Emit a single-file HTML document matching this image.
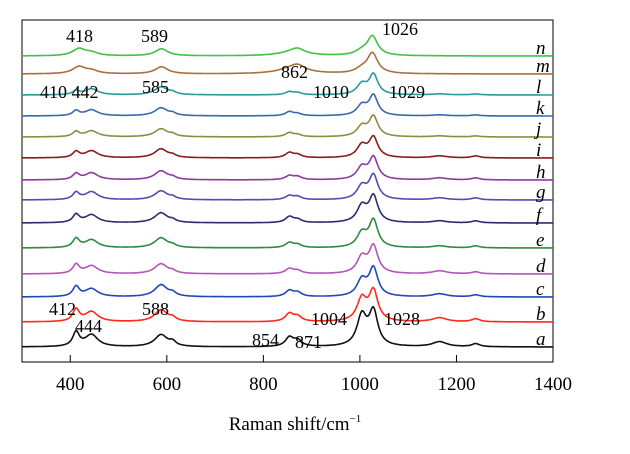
<!DOCTYPE html>
<html><head><meta charset="utf-8"><style>
body{margin:0;background:#fff;}
svg text{font-family:"Liberation Serif",serif;}
</style></head><body>
<svg id="chart" width="630" height="449" xmlns="http://www.w3.org/2000/svg">
<rect x="22" y="20" width="531" height="342" fill="none" stroke="#000" stroke-width="1"/>
<g id="ticks"></g><g id="series"></g>
<g font-size="18" fill="#000">
<text x="66" y="42">418</text>
<text x="141" y="42">589</text>
<text x="382" y="35">1026</text>
<text x="281" y="78">862</text>
<text x="40" y="98">410 442</text>
<text x="142" y="93">585</text>
<text x="313" y="98">1010</text>
<text x="389" y="98">1029</text>
<text x="49" y="315">412</text>
<text x="75" y="332">444</text>
<text x="142" y="315">588</text>
<text x="311" y="325">1004</text>
<text x="384" y="325">1028</text>
<text x="252" y="346">854</text>
<text x="295" y="348">871</text>
</g>
<text x="295" y="430" font-size="19" text-anchor="middle">Raman shift/cm<tspan font-size="11" dy="-8">−1</tspan></text>
</svg>
<script>
const xTicks=[400,600,800,1000,1200,1400];
const seriesNames=['a','b','c','d','e','f','g','h','i','j','k','l','m','n'];
const seriesColors=['#111','#ff2a1a','#2048b8','#b454b8','#2e8a3c','#2c2c6c','#5a48b0','#8c3a9c','#8a1c1c','#8e8c40','#3a68b0','#2a9a9a','#a8703c','#44c044'];
const baselines=[0,-25,-50,-73,-99,-124,-147,-167,-189,-210,-231,-252,-273,-291];
const peakCenters=[412,444,588,612,854,871,1004,1028,1165,1240];
const peakWidths=[8,16,16,8,10,10,12,11,18,10];
const hA=[14,12,12,4,9,6,30,34,5,3];
const hB=[12,10,12,3,8,5,22,30,4,3];
const hC=[10,8,12,3,6,4,16,28,3,2];
const hD=[9,8,10,2,5,3,16,27,3,2];
const hE=[9,8,10,2,5,3,14,27,2,2];
const hF=[8,8,10,2,6,3,16,26,2,2];
const hG=[7,8,9,2,4,3,13,24,2,2];
const hH=[6,7,9,2,4,3,12,22,2,2];
const hI=[6,7,9,2,5,3,12,20,2,2];
const hJ=[5,6,8,2,4,2,10,20,1,1];
const hK=[5,6,8,2,4,2,10,20,1,1];
const hL=[4,6,8,2,3,2,10,20,1,1];
const hM=[7,3,7,0,6,4,4,20,0,0];
const hN=[7,3,7,0,4,4,4,19,0,0];
const heights=[hA,hB,hC,hD,hE,hF,hG,hH,hI,hJ,hK,hL,hM,hN];
const broadCenters=[418,444,589,612,862,871,1004,1026,1165,1240];
const X0=22,X1=553,Y0=347;
const xs=v=>X0+(v-300)/(1100)*(X1-X0);
const NS='http://www.w3.org/2000/svg';
const tg=document.getElementById('ticks');
xTicks.forEach(t=>{
 if(t<1400){const l=document.createElementNS(NS,'line');
 l.setAttribute('x1',xs(t));l.setAttribute('x2',xs(t));l.setAttribute('y1',362);l.setAttribute('y2',355);l.setAttribute('stroke','#000');
 
 
 tg.appendChild(l);}
 const tx=document.createElementNS(NS,'text');
 tx.setAttribute('x',xs(t));tx.setAttribute('y',390);tx.setAttribute('font-size','19');tx.setAttribute('text-anchor','middle');tx.textContent=t;
 
 
 tg.appendChild(tx);
});
const sg=document.getElementById('series');
seriesNames.forEach((nm,i)=>{
 const broad=(nm==='m'||nm==='n');
 let d='';
 for(let v=300;v<=1400;v+=2){
  let y=0;
  peakCenters.forEach((c,k)=>{
   let cc=c,w=peakWidths[k];
   if(broad){cc=broadCenters[k];w=k===4?35:(k===7?13:16);}
   y+=heights[i][k]/(1+((v-cc)/w)**2);
  });
  d+=(v===300?'M':'L')+xs(v).toFixed(1)+','+(Y0+baselines[i]-y).toFixed(1);
 }
 const p=document.createElementNS(NS,'path');
 p.setAttribute('d',d);p.setAttribute('fill','none');p.setAttribute('stroke',seriesColors[i]);p.setAttribute('stroke-width','1.6');
 
 
 sg.appendChild(p);
 const t=document.createElementNS(NS,'text');
 t.setAttribute('x',536);t.setAttribute('y',Y0+baselines[i]-2);t.setAttribute('font-size','19');t.setAttribute('font-style','italic');t.textContent=nm;
 
 
 sg.appendChild(t);
});
</script>
</body></html>
